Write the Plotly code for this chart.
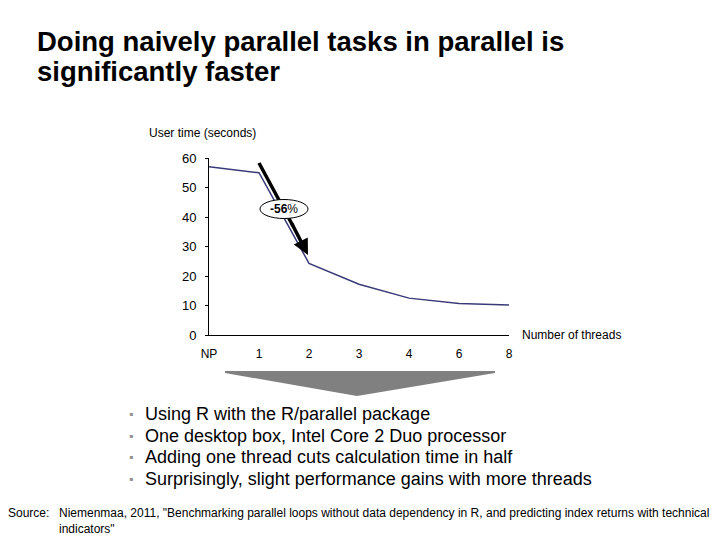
import plotly.graph_objects as go

threads = ["NP", "1", "2", "3", "4", "6", "8"]
user_time = [57, 55, 24.3, 17.2, 12.5, 10.7, 10.2]
y_ticks = [0, 10, 20, 30, 40, 50, 60]

title_lines = ["Doing naively parallel tasks in parallel is", "significantly faster"]
bullets = [
    "Using R with the R/parallel package",
    "One desktop box, Intel Core 2 Duo processor",
    "Adding one thread cuts calculation time in half",
    "Surprisingly, slight performance gains with more threads",
]
source_text = ('Niemenmaa, 2011, "Benchmarking parallel loops without data dependency in R, '
               'and predicting index returns with technical<br>indicators"')

W, H = 720, 540
L, R, T, B = 209, 509, 158, 335  # plot area in pixels


def px(x):
    return (x - L) / (R - L)


def py(y):
    return (B - y) / (B - T)


FONT = "Liberation Sans, Arial, sans-serif"

fig = go.Figure()
fig.add_trace(go.Scatter(
    x=threads, y=user_time, mode="lines",
    line=dict(color="#3a3a78", width=1.5),
    hoverinfo="x+y", showlegend=False,
))

annotations = []
# title
for i, line in enumerate(title_lines):
    annotations.append(dict(
        x=px(35), y=py(41 + i * 30), xref="paper", yref="paper",
        text="<b>%s</b>" % line, showarrow=False, xanchor="left", yanchor="middle",
        font=dict(size=27.5, color="black", family=FONT),
    ))
annotations.append(dict(
    x=px(147), y=py(133), xref="paper", yref="paper", text="User time (seconds)",
    showarrow=False, xanchor="left", yanchor="middle", font=dict(size=12, color="black"),
))
annotations.append(dict(
    x=px(520), y=py(335), xref="paper", yref="paper", text="Number of threads",
    showarrow=False, xanchor="left", yanchor="middle", font=dict(size=12, color="black"),
))
# ellipse label
annotations.append(dict(
    x=px(284), y=py(209), xref="paper", yref="paper", text="<b>-56</b>%",
    showarrow=False, xanchor="center", yanchor="middle", font=dict(size=12, color="black"),
))
# arrowhead part of the big arrow
annotations.append(dict(
    x=px(308), y=py(255), xref="paper", yref="paper", ax=-17, ay=-33,
    text="", showarrow=True, arrowhead=2, arrowsize=0.9, arrowwidth=3.5, arrowcolor="black",
))
# bullets
for i, b in enumerate(bullets):
    yy = 414 + i * 21.5
    annotations.append(dict(
        x=px(131), y=py(yy), xref="paper", yref="paper", text="\u25aa",
        showarrow=False, xanchor="center", yanchor="middle",
        font=dict(size=12, color="#909090"),
    ))
    annotations.append(dict(
        x=px(143), y=py(yy), xref="paper", yref="paper", text=b,
        showarrow=False, xanchor="left", yanchor="middle",
        font=dict(size=18, color="black", family=FONT),
    ))
annotations.append(dict(
    x=px(6), y=py(504), xref="paper", yref="paper", text="Source:",
    showarrow=False, xanchor="left", yanchor="top", font=dict(size=12, color="black"),
))
annotations.append(dict(
    x=px(57), y=py(504), xref="paper", yref="paper", text=source_text, align="left",
    showarrow=False, xanchor="left", yanchor="top", font=dict(size=12, color="black"),
))

shapes = [
    # arrow shaft
    dict(type="line", xref="paper", yref="paper",
         x0=px(259), y0=py(163), x1=px(293), y1=py(226),
         line=dict(color="black", width=3.5), layer="above"),
    # ellipse
    dict(type="circle", xref="paper", yref="paper",
         x0=px(260), x1=px(308), y0=py(199.5), y1=py(218.5),
         fillcolor="white", line=dict(color="black", width=1), layer="above"),
    # chevron
    dict(type="path", xref="paper", yref="paper",
         path="M %f,%f L %f,%f L %f,%f L %f,%f L %f,%f Z" % (
             px(225), py(371), px(495), py(371), px(495), py(373),
             px(357), py(396), px(225), py(373)),
         fillcolor="#808080", line=dict(width=0), layer="above"),
]

fig.update_layout(
    width=W, height=H,
    margin=dict(l=L, r=W - R, t=T, b=H - B, pad=0),
    paper_bgcolor="white", plot_bgcolor="white",
    font=dict(family=FONT, size=12, color="black"),
    annotations=annotations, shapes=shapes,
    xaxis=dict(
        type="category", range=[0, 6], showgrid=False, zeroline=False,
        showline=True, linecolor="black", linewidth=1, ticks="",
        ticklabelstandoff=8, tickfont=dict(size=12),
    ),
    yaxis=dict(
        range=[0, 60], tickvals=y_ticks, showgrid=False, zeroline=False,
        showline=True, linecolor="black", linewidth=1, ticks="outside",
        ticklen=3, tickcolor="black", ticklabelstandoff=6, tickfont=dict(size=13),
    ),
)

fig.write_html("out.html", config={"displayModeBar": False},
               post_script="document.body.style.margin = '0';")
